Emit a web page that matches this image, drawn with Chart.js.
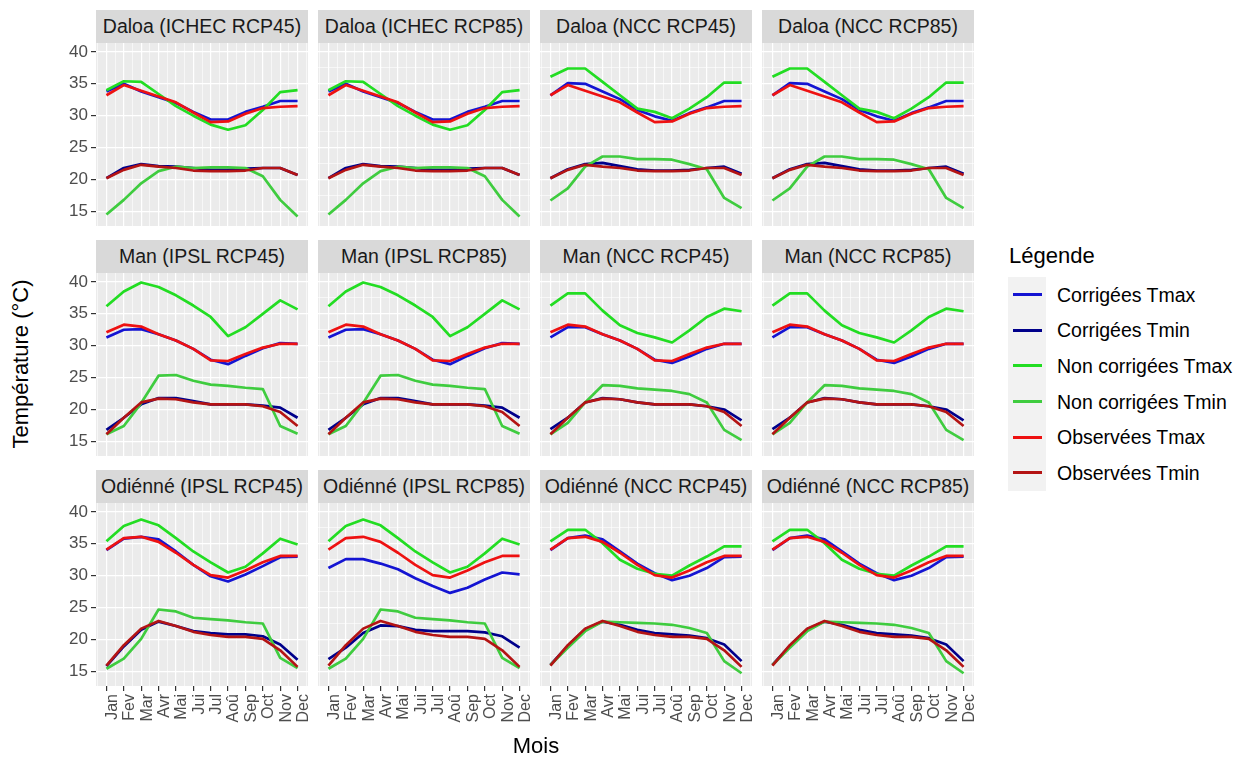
<!DOCTYPE html>
<html>
<head>
<meta charset="utf-8">
<script src="https://cdn.jsdelivr.net/npm/chart.js@4"></script>
<style>
  body { margin: 0; background: #fff; font-family: "Liberation Sans", Arial, sans-serif; }
  #page { position: relative; width: 1246px; height: 763px; overflow: hidden; }
  .strip { position: absolute; background: #D9D9D9; color: #1A1A1A; font-size: 19.5px; text-align: center; white-space: nowrap; }
  canvas { position: absolute; }
  .title { position: absolute; color: #000; font-size: 22px; white-space: nowrap; }
  .key { position: absolute; background: #F2F2F2; }
  .key div { position: absolute; left: 5px; right: 4px; height: 3px; }
  .lab { position: absolute; font-size: 19.5px; color: #000; white-space: nowrap; }
</style>
</head>
<body>
<div id="page"></div>
<script>
const months = ['Jan', 'Fev', 'Mar', 'Avr', 'Mai', 'Jui', 'Jul', 'Aoû', 'Sep', 'Oct', 'Nov', 'Dec'];
const yTicks = [15, 20, 25, 30, 35, 40];

const seriesNames = ['Corrigées Tmax', 'Corrigées Tmin', 'Non corrigées Tmax', 'Non corrigées Tmin', 'Observées Tmax', 'Observées Tmin'];
const seriesColors = ['#1414D2', '#00008B', '#22DD22', '#3FCC3F', '#EE1111', '#B41414'];

// observed, per station
const daloaObsTmax = [33.2, 34.8, 33.9, 33.0, 32.1, 30.5, 29.0, 29.1, 30.3, 31.2, 31.4, 31.5];
const daloaObsTmin = [20.2, 21.5, 22.3, 22.0, 21.8, 21.4, 21.3, 21.3, 21.4, 21.8, 21.8, 20.7];
const manObsTmax = [32.1, 33.3, 33.0, 31.8, 30.8, 29.5, 27.7, 27.6, 28.7, 29.7, 30.3, 30.3];
const manObsTmin = [16.1, 18.7, 21.1, 21.7, 21.6, 21.1, 20.8, 20.8, 20.8, 20.5, 19.6, 17.4];
const odienneObsTmax = [34.1, 35.9, 36.1, 35.3, 33.6, 31.7, 30.1, 29.7, 30.8, 32.1, 33.1, 33.1];
const odienneObsTmin = [15.9, 19.1, 21.7, 22.9, 22.1, 21.2, 20.7, 20.4, 20.4, 20.1, 18.3, 15.7];

// non corrigées (raw model)
const daloaIchecRawTmax = [34.0, 35.4, 35.3, 33.4, 31.5, 30.0, 28.6, 27.8, 28.5, 30.9, 33.7, 34.0];
const daloaIchecRawTmin = [14.5, 16.8, 19.4, 21.3, 22.0, 21.8, 21.9, 21.9, 21.8, 20.5, 16.8, 14.2];
const daloaNccRawTmax = [36.1, 37.4, 37.4, 35.3, 33.2, 31.1, 30.6, 29.6, 31.1, 32.9, 35.2, 35.2];
const daloaNccRawTmin = [16.7, 18.6, 22.0, 23.6, 23.6, 23.2, 23.2, 23.1, 22.4, 21.6, 17.1, 15.5];
const manIpslRawTmax = [36.2, 38.5, 39.9, 39.2, 37.9, 36.3, 34.5, 31.5, 32.9, 35.0, 37.1, 35.7];
const manIpslRawTmin = [16.1, 17.4, 21.0, 25.3, 25.4, 24.5, 23.9, 23.7, 23.4, 23.2, 17.4, 16.2];
const manNccRawTmax = [36.3, 38.2, 38.2, 35.5, 33.2, 32.0, 31.3, 30.5, 32.4, 34.5, 35.8, 35.4];
const manNccRawTmin = [16.1, 17.9, 21.1, 23.8, 23.7, 23.3, 23.1, 22.9, 22.4, 21.1, 16.8, 15.2];
const odienneIpslRawTmax = [35.4, 37.8, 38.8, 37.9, 35.9, 33.8, 32.1, 30.5, 31.4, 33.5, 35.8, 34.9];
const odienneIpslRawTmin = [15.4, 17.0, 20.1, 24.7, 24.4, 23.4, 23.2, 23.0, 22.7, 22.5, 17.1, 15.5];
const odienneNccRawTmax = [35.4, 37.2, 37.2, 35.1, 32.5, 31.1, 30.3, 30.0, 31.6, 33.0, 34.6, 34.6];
const odienneNccRawTmin = [16.0, 18.7, 21.3, 22.8, 22.7, 22.6, 22.5, 22.3, 21.8, 21.0, 16.6, 14.7];

// corrigées
const daloaIchecCorTmax = [33.8, 35.0, 33.8, 32.9, 32.0, 30.6, 29.4, 29.4, 30.6, 31.4, 32.3, 32.3];
const daloaIchecCorTmin = [20.2, 21.8, 22.4, 22.1, 22.0, 21.8, 21.5, 21.5, 21.7, 21.8, 21.8, 20.7];
const daloaNccCorTmax = [33.2, 35.1, 35.0, 33.8, 32.6, 30.9, 29.9, 29.2, 30.4, 31.3, 32.3, 32.3];
const daloaNccCorTmin = [20.2, 21.6, 22.4, 22.6, 22.1, 21.6, 21.4, 21.4, 21.5, 21.8, 22.0, 20.9];
const manIpslCorTmax = [31.3, 32.5, 32.6, 31.8, 30.8, 29.5, 27.8, 27.1, 28.4, 29.6, 30.4, 30.3];
const manIpslCorTmin = [16.8, 18.7, 20.8, 21.8, 21.8, 21.3, 20.8, 20.8, 20.8, 20.6, 20.3, 18.7];
const manNccCorTmax = [31.3, 32.9, 32.9, 31.8, 30.8, 29.5, 27.8, 27.3, 28.3, 29.5, 30.3, 30.3];
const manNccCorTmin = [16.9, 18.7, 21.1, 21.8, 21.6, 21.1, 20.8, 20.8, 20.8, 20.5, 20.0, 18.3];
const odienneIpsl45CorTmax = [34.0, 35.8, 36.1, 35.7, 33.8, 31.7, 29.9, 29.1, 30.2, 31.5, 32.9, 33.0];
const odienneIpsl45CorTmin = [15.8, 18.9, 21.5, 22.8, 22.1, 21.3, 21.0, 20.8, 20.8, 20.5, 19.2, 16.8];
const odienneIpsl85CorTmax = [31.2, 32.6, 32.6, 31.9, 31.0, 29.6, 28.4, 27.3, 28.1, 29.4, 30.5, 30.2];
const odienneIpsl85CorTmin = [16.9, 18.7, 21.0, 22.2, 22.1, 21.5, 21.3, 21.3, 21.3, 21.1, 20.5, 18.7];
const odienneNccCorTmax = [34.0, 35.9, 36.3, 35.7, 33.8, 31.9, 30.4, 29.3, 30.0, 31.2, 32.9, 33.0];
const odienneNccCorTmin = [16.0, 19.0, 21.6, 22.8, 22.3, 21.5, 21.0, 20.8, 20.6, 20.2, 19.2, 16.6];

// facets, row by row: title + [corTmax, corTmin, rawTmax, rawTmin, obsTmax, obsTmin]
const panels = [
  ['Daloa (ICHEC RCP45)', [daloaIchecCorTmax, daloaIchecCorTmin, daloaIchecRawTmax, daloaIchecRawTmin, daloaObsTmax, daloaObsTmin]],
  ['Daloa (ICHEC RCP85)', [daloaIchecCorTmax, daloaIchecCorTmin, daloaIchecRawTmax, daloaIchecRawTmin, daloaObsTmax, daloaObsTmin]],
  ['Daloa (NCC RCP45)', [daloaNccCorTmax, daloaNccCorTmin, daloaNccRawTmax, daloaNccRawTmin, daloaObsTmax, daloaObsTmin]],
  ['Daloa (NCC RCP85)', [daloaNccCorTmax, daloaNccCorTmin, daloaNccRawTmax, daloaNccRawTmin, daloaObsTmax, daloaObsTmin]],
  ['Man (IPSL RCP45)', [manIpslCorTmax, manIpslCorTmin, manIpslRawTmax, manIpslRawTmin, manObsTmax, manObsTmin]],
  ['Man (IPSL RCP85)', [manIpslCorTmax, manIpslCorTmin, manIpslRawTmax, manIpslRawTmin, manObsTmax, manObsTmin]],
  ['Man (NCC RCP45)', [manNccCorTmax, manNccCorTmin, manNccRawTmax, manNccRawTmin, manObsTmax, manObsTmin]],
  ['Man (NCC RCP85)', [manNccCorTmax, manNccCorTmin, manNccRawTmax, manNccRawTmin, manObsTmax, manObsTmin]],
  ['Odiénné (IPSL RCP45)', [odienneIpsl45CorTmax, odienneIpsl45CorTmin, odienneIpslRawTmax, odienneIpslRawTmin, odienneObsTmax, odienneObsTmin]],
  ['Odiénné (IPSL RCP85)', [odienneIpsl85CorTmax, odienneIpsl85CorTmin, odienneIpslRawTmax, odienneIpslRawTmin, odienneObsTmax, odienneObsTmin]],
  ['Odiénné (NCC RCP45)', [odienneNccCorTmax, odienneNccCorTmin, odienneNccRawTmax, odienneNccRawTmin, odienneObsTmax, odienneObsTmin]],
  ['Odiénné (NCC RCP85)', [odienneNccCorTmax, odienneNccCorTmin, odienneNccRawTmax, odienneNccRawTmin, odienneObsTmax, odienneObsTmin]]
];

const colX = [96, 318, 540, 762];
const rowY = [43, 273, 503];
const PW = 212, PH = 183, STRIP = 33, YAXIS_W = 60, XAXIS_H = 55;

Chart.defaults.font.family = '"Liberation Sans", Arial, sans-serif';

const page = document.getElementById('page');

// ggplot-ish grey panel background
const panelBg = {
  id: 'panelBg',
  beforeDraw(chart) {
    const a = chart.chartArea, ctx = chart.ctx;
    ctx.save();
    ctx.fillStyle = '#EBEBEB';
    ctx.fillRect(a.left, a.top, a.right - a.left, a.bottom - a.top);
    ctx.restore();
  }
};

// major ticks plus minor midpoints
const yGrid = [];
yTicks.forEach((v, i) => { yGrid.push(v); if (i < yTicks.length - 1) yGrid.push((v + yTicks[i + 1]) / 2); });
const xGrid = [-0.5];
months.forEach((m, i) => { xGrid.push(i); xGrid.push(i + 0.5); });

function noPad(s) { s.paddingLeft = 0; s.paddingRight = 0; s.paddingTop = 0; s.paddingBottom = 0; }

panels.forEach(([title, series], i) => {
  const r = Math.floor(i / 4), c = i % 4;
  const strip = document.createElement('div');
  strip.className = 'strip';
  strip.style.cssText = `left:${colX[c]}px;top:${rowY[r] - STRIP}px;width:${PW}px;height:${STRIP}px;line-height:${STRIP}px;`;
  strip.textContent = title;
  page.appendChild(strip);

  const left = c === 0 ? YAXIS_W : 0;
  const bottom = r === 2 ? XAXIS_H : 0;
  const cv = document.createElement('canvas');
  cv.width = PW + left;
  cv.height = PH + bottom;
  cv.style.left = (colX[c] - left) + 'px';
  cv.style.top = rowY[r] + 'px';
  page.appendChild(cv);

  // reversed drawing order so the observed lines end up on top
  const datasets = series.map((vals, k) => ({
    label: seriesNames[k],
    data: vals.map((v, j) => ({ x: j, y: v })),
    borderColor: seriesColors[k],
    borderWidth: 2.7,
    pointRadius: 0,
    tension: 0,
    borderJoinStyle: 'round',
    order: 5 - k
  }));

  new Chart(cv, {
    type: 'line',
    data: { datasets },
    plugins: [panelBg],
    options: {
      responsive: false,
      animation: false,
      events: [],
      layout: { padding: 0 },
      plugins: { legend: { display: false }, tooltip: { enabled: false } },
      scales: {
        x: {
          type: 'linear', min: -0.6, max: 11.6,
          afterBuildTicks: s => { s.ticks = xGrid.map(v => ({ value: v })); },
          afterFit: s => { s.height = bottom; noPad(s); },
          border: { display: false },
          grid: {
            color: '#FFFFFF',
            lineWidth: ctx => Number.isInteger(ctx.tick.value) ? 1.2 : 0.6,
            drawTicks: r === 2,
            tickLength: 5,
            tickColor: ctx => Number.isInteger(ctx.tick.value) ? '#333333' : 'rgba(0,0,0,0)',
            tickWidth: 1.2
          },
          ticks: {
            display: r === 2,
            autoSkip: false, maxRotation: 90, minRotation: 90,
            padding: 3, labelOffset: 6,
            color: '#4D4D4D', font: { size: 16 },
            callback: v => Number.isInteger(v) ? months[v] : ''
          }
        },
        y: {
          type: 'linear', min: 12.7, max: 41.4,
          afterBuildTicks: s => { s.ticks = yGrid.map(v => ({ value: v })); },
          afterFit: s => { s.width = left; noPad(s); },
          border: { display: false },
          grid: {
            color: '#FFFFFF',
            lineWidth: ctx => yTicks.includes(ctx.tick.value) ? 1.2 : 0.6,
            drawTicks: c === 0,
            tickLength: 5,
            tickColor: ctx => yTicks.includes(ctx.tick.value) ? '#333333' : 'rgba(0,0,0,0)',
            tickWidth: 1.2
          },
          ticks: {
            display: c === 0,
            padding: 3,
            color: '#4D4D4D', font: { size: 17 },
            callback: v => yTicks.includes(v) ? String(v) : ''
          }
        }
      }
    }
  });
});

// axis titles
const xt = document.createElement('div');
xt.className = 'title';
xt.textContent = 'Mois';
xt.style.cssText = 'left:536px;top:746px;transform:translate(-50%,-50%);';
page.appendChild(xt);

const yt = document.createElement('div');
yt.className = 'title';
yt.textContent = 'Température (°C)';
yt.style.cssText = 'left:21px;top:364px;transform:translate(-50%,-50%) rotate(-90deg);';
page.appendChild(yt);

// legend
const lt = document.createElement('div');
lt.className = 'title';
lt.textContent = 'Légende';
lt.style.cssText = 'left:1009px;top:256px;transform:translateY(-50%);';
page.appendChild(lt);

const KEY_H = 35.6, KEY_TOP = 277;
seriesNames.forEach((name, k) => {
  const key = document.createElement('div');
  key.className = 'key';
  key.style.cssText = `left:1008px;top:${KEY_TOP + k * KEY_H}px;width:38px;height:${KEY_H}px;`;
  const ln = document.createElement('div');
  ln.style.cssText = `top:${KEY_H / 2 - 1.5}px;background:${seriesColors[k]};`;
  key.appendChild(ln);
  page.appendChild(key);
  const lab = document.createElement('div');
  lab.className = 'lab';
  lab.textContent = name;
  lab.style.cssText = `left:1057px;top:${KEY_TOP + k * KEY_H + KEY_H / 2}px;transform:translateY(-50%);`;
  page.appendChild(lab);
});
</script>
</body>
</html>
